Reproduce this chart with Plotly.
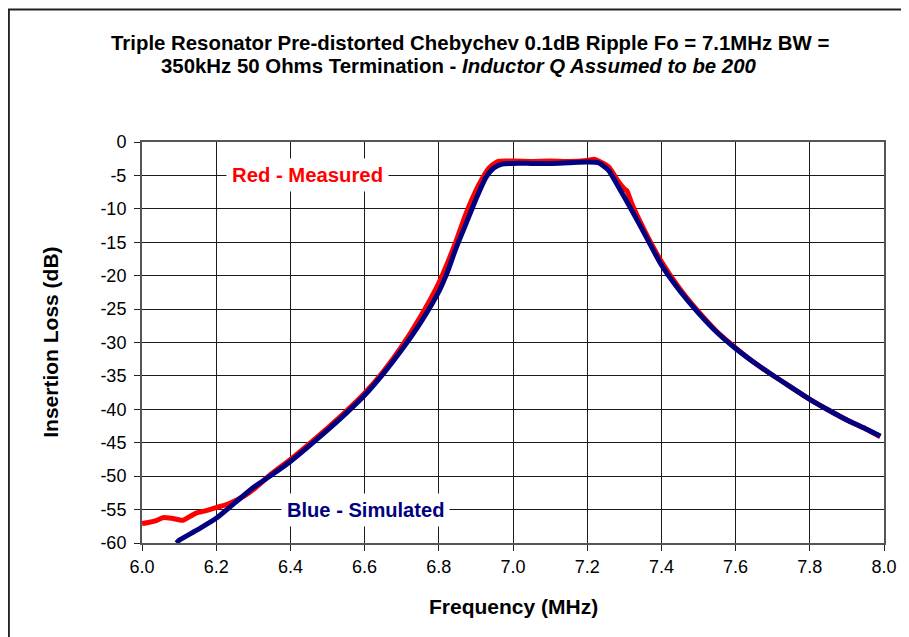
import plotly.graph_objects as go

# Simulated (blue)
sim_freq = [6.093, 6.1, 6.15, 6.2, 6.25, 6.3, 6.35, 6.4, 6.45, 6.5, 6.55, 6.6, 6.65, 6.7, 6.75,
            6.8, 6.825, 6.845, 6.872, 6.899, 6.926, 6.948, 6.97, 7.0, 7.05, 7.1, 7.15,
            7.2, 7.23, 7.257, 7.284, 7.32, 7.356, 7.4, 7.45, 7.5, 7.55, 7.6,
            7.65, 7.7, 7.75, 7.8, 7.85, 7.9, 7.95, 7.99]
sim_db = [-60.0, -59.6, -58.0, -56.3, -54.0, -51.7, -49.8, -47.8, -45.5, -43.1, -40.6, -37.9,
          -34.7, -31.1, -27.1, -22.4, -19.2, -16.1, -12.4, -8.7, -5.4, -3.9, -3.3, -3.2, -3.2,
          -3.2, -3.1, -3.0, -3.1, -4.2, -6.7, -10.2, -13.9, -18.4, -22.3, -25.6, -28.5, -30.9,
          -33.0, -34.9, -36.7, -38.5, -40.1, -41.6, -42.9, -44.0]

# Measured (red)
meas_freq = [6.0, 6.02, 6.04, 6.057, 6.08, 6.11, 6.13, 6.147, 6.17, 6.2, 6.23, 6.254, 6.28, 6.3,
             6.35, 6.4, 6.45, 6.5, 6.55, 6.6, 6.65, 6.7, 6.75, 6.8, 6.827, 6.85, 6.872, 6.908,
             6.935, 6.96, 7.0, 7.05, 7.1, 7.15, 7.2, 7.22, 7.257, 7.284, 7.3, 7.307, 7.32,
             7.356, 7.4, 7.45, 7.5, 7.55, 7.6, 7.65, 7.7, 7.75, 7.8, 7.85, 7.9, 7.95, 7.99]
meas_db = [-57.1, -56.9, -56.6, -56.2, -56.3, -56.6, -56.0, -55.5, -55.2, -54.7, -54.2, -53.6,
           -52.8, -52.0, -49.6, -47.5, -45.2, -42.8, -40.3, -37.6, -34.4, -30.6, -26.2, -21.1,
           -17.6, -14.3, -10.9, -6.4, -3.9, -2.9, -2.85, -2.9, -2.85, -2.9, -2.75, -2.6, -3.7,
           -5.9, -7.0, -7.3, -9.2, -13.4, -17.9, -22.0, -25.4, -28.4, -30.8, -33.0, -34.9,
           -36.7, -38.5, -40.1, -41.6, -42.9, -44.1]

x_ticks = [6.0, 6.2, 6.4, 6.6, 6.8, 7.0, 7.2, 7.4, 7.6, 7.8, 8.0]
y_ticks = [0, -5, -10, -15, -20, -25, -30, -35, -40, -45, -50, -55, -60]

FONT = "Liberation Sans, Arial, sans-serif"

# page body has an 8px margin; figure sized so the plot lands where the reference has it
W, H = 901, 629
ML, MT, MR, MB = 134, 134, 23, 94
PW, PH = W - ML - MR, H - MT - MB


def px(xf):
    return (xf - ML) / PW


def py(yf):
    return (H - MB - yf) / PH


fig = go.Figure()
fig.add_trace(go.Scatter(x=meas_freq, y=meas_db, mode="lines",
                         line=dict(color="#ff0000", width=5, shape="spline", smoothing=0.6),
                         showlegend=False))
fig.add_trace(go.Scatter(x=sim_freq, y=sim_db, mode="lines",
                         line=dict(color="#000080", width=5, shape="spline", smoothing=0.6),
                         showlegend=False))

axis_common = dict(showgrid=True, gridcolor="#1a1a1a", gridwidth=1,
                   showline=True, linecolor="#555", linewidth=2, mirror=True,
                   ticks="outside", ticklen=6, tickcolor="#222", tickwidth=1,
                   tickfont=dict(family=FONT, size=18, color="#000"),
                   zeroline=False)

bold = dict(family=FONT, color="#000")

fig.update_layout(
    width=W, height=H,
    margin=dict(l=ML, r=MR, t=MT, b=MB),
    paper_bgcolor="white", plot_bgcolor="white",
    xaxis=dict(range=[6.0, 8.0], tickvals=x_ticks,
               ticktext=[f"{v:.1f}" for v in x_ticks], **axis_common),
    yaxis=dict(range=[-60, 0], tickvals=y_ticks, ticklabelstandoff=4,
               ticktext=[str(v) for v in y_ticks], **axis_common),
    annotations=[
        dict(x=px(462.5), y=py(35), xref="paper", yref="paper", showarrow=False,
             xanchor="center", yanchor="middle",
             text="<b>Triple Resonator Pre-distorted Chebychev 0.1dB Ripple Fo = 7.1MHz BW =</b>",
             font=dict(size=20.4, **bold)),
        dict(x=px(452), y=py(58), xref="paper", yref="paper", showarrow=False,
             xanchor="center", yanchor="middle",
             text="<b>350kHz 50 Ohms Termination - <i>Inductor Q Assumed to be 200</i></b>",
             font=dict(size=20.4, **bold)),
        dict(x=0.5, y=py(598), xref="paper", yref="paper", showarrow=False,
             xanchor="center", yanchor="middle",
             text="<b>Frequency (MHz)</b>", font=dict(size=21, **bold)),
        dict(x=px(42), y=0.5, xref="paper", yref="paper", showarrow=False,
             xanchor="center", yanchor="middle", textangle=-90,
             text="<b>Insertion Loss (dB)</b>", font=dict(size=21, **bold)),
        dict(x=6.446, y=-5, xref="x", yref="y", showarrow=False,
             text="<b>Red - Measured</b>", bgcolor="white", borderpad=5,
             font=dict(family=FONT, size=20.3, color="#ff0000")),
        dict(x=6.602, y=-55, xref="x", yref="y", showarrow=False,
             text="<b>Blue - Simulated</b>", bgcolor="white", borderpad=5,
             font=dict(family=FONT, size=20.1, color="#000080")),
    ],
    shapes=[
        dict(type="rect", xref="paper", yref="paper",
             x0=px(0.5), x1=px(W + 20), y0=py(H + 20), y1=py(1.5),
             line=dict(color="#222", width=2), fillcolor="rgba(0,0,0,0)", layer="below"),
    ],
)

fig.write_html("out.html")
